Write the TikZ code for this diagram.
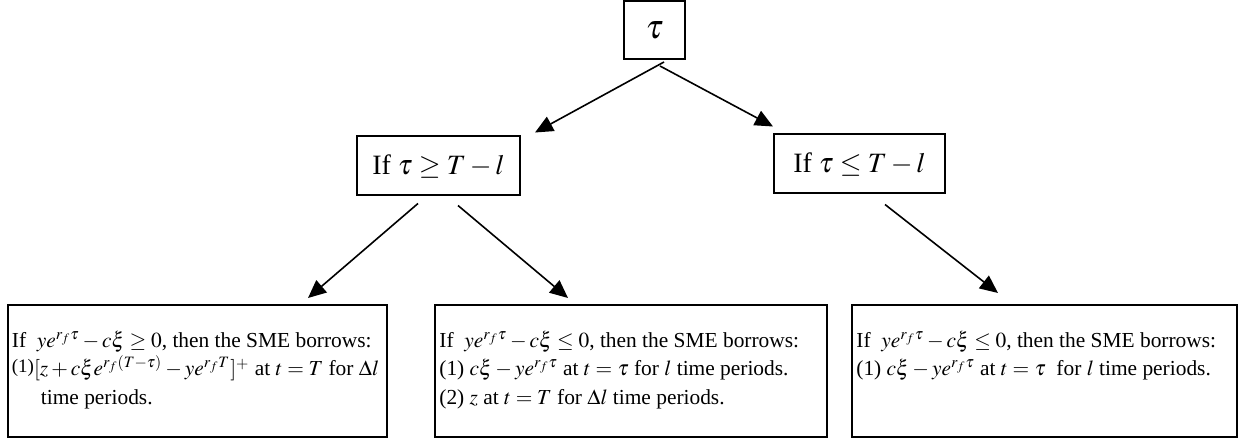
\documentclass[tikz,border=0pt]{standalone}
\usepackage{mathptmx}
\usepackage[no-math]{fontspec}
\setmainfont{Liberation Serif}
\usetikzlibrary{arrows.meta, positioning, calc}

\tikzset{
    box/.style={draw, line width=1pt, inner sep=0pt},
    rootbox/.style={box, minimum width=30.5pt, minimum height=29pt, font=\fontsize{17}{20}\selectfont},
    condbox/.style={box, minimum height=29.5pt, font=\fontsize{14}{16}\selectfont},
    borrowbox/.style={box, minimum height=66pt},
    borrowtext/.style={anchor=base west, inner sep=0pt, font=\fontsize{10.7}{14.2}\selectfont},
    link/.style={line width=0.8pt, -{Triangle[length=9pt, width=8pt]}}
}
\newcommand{\itemno}[1]{\raisebox{1.5pt}{\fontsize{9.5}{9.5}\selectfont(#1)}}

\begin{document}
\begin{tikzpicture}[x=0.5pt, y=-0.5pt]
    \useasboundingbox (0,0) rectangle (1239,443);

    % tree of cases
    \node[rootbox] (root) at (654.5,30) {$\tau$};
    \node[condbox, minimum width=81.5pt] (late) at (438.5,166) {If $\tau \geq T-l$};
    \node[condbox, minimum width=85.5pt] (early) at (859.5,164) {If $\tau \leq T-l$};

    \node[borrowbox, minimum width=189.5pt] (b1) at (197,371.5) {};
    \node[borrowbox, minimum width=196pt] (b2) at (631,371.5) {};
    \node[borrowbox, minimum width=192.5pt] (b3) at (1044.5,371.5) {};

    \node[borrowtext] (b1t) at ([shift={(5,43)}]b1.north west) {\parbox[t]{188pt}{%
        If\ \ $ye^{r_f\tau}-c\xi\geq 0$, then the SME borrows:\\
        \itemno{1}$[z+c\xi e^{r_f(T-\tau)}-ye^{r_fT}]^{+}$ at $t=T$ for $\Delta l$\\
        \hspace*{14.5pt}time periods.}};
    \node[borrowtext] (b2t) at ([shift={(5,43)}]b2.north west) {\parbox[t]{192pt}{%
        If\ \ $ye^{r_f\tau}-c\xi\leq 0$, then the SME borrows:\\
        (1) $c\xi-ye^{r_f\tau}$ at $t=$ $\tau$ for $l$ time periods.\\
        (2) $z$ at $t=T$ for $\Delta l$ time periods.}};
    \node[borrowtext] (b3t) at ([shift={(5,43)}]b3.north west) {\parbox[t]{190pt}{%
        If\ \ $ye^{r_f\tau}-c\xi\leq 0$, then the SME borrows:\\
        (1) $c\xi-ye^{r_f\tau}$ at $t=$ $\tau$\ \ for $l$ time periods.}};

    % arrows
    \draw[link] ([shift={(9.5,2)}]root.south) -- ([shift={(96.5,-3)}]late.north);
    \draw[link] ([shift={(5.5,6)}]root.south) -- ([shift={(-86.5,-7)}]early.north);
    \draw[link] ([shift={(-20.5,7)}]late.south) -- ([shift={(111,-6.5)}]b1.north);
    \draw[link] ([shift={(19.5,9)}]late.south) -- ([shift={(-63,-6.5)}]b2.north);
    \draw[link] ([shift={(25.5,10)}]early.south) -- ([shift={(-46.5,-11.5)}]b3.north);
\end{tikzpicture}
\end{document}
